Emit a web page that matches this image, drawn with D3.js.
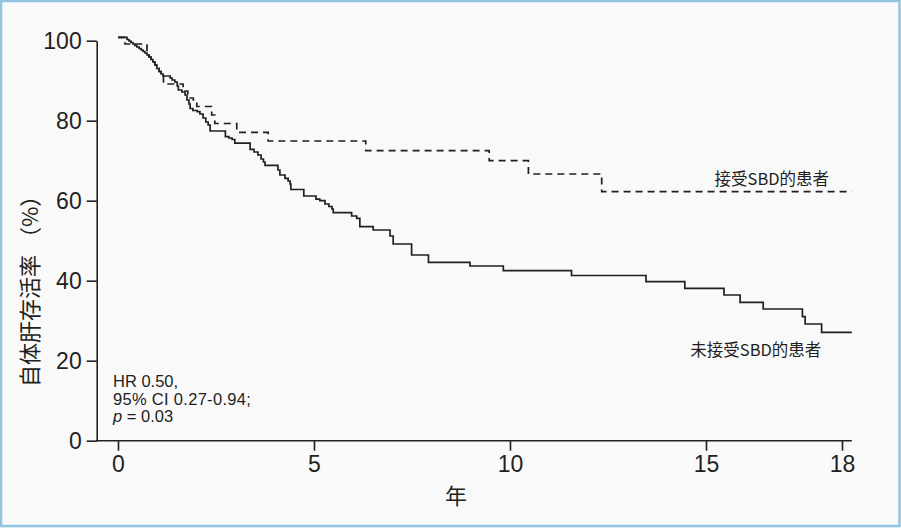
<!DOCTYPE html>
<html><head><meta charset="utf-8">
<script src="https://cdn.jsdelivr.net/npm/d3@7/dist/d3.min.js"></script>
<style>
html,body{margin:0;padding:0;background:#f9f9f9;}
svg{display:block;}
</style></head>
<body>
<svg id="chart" width="901" height="528"></svg>
<script>
// ---- data (years, % survival) ----
const noSBD = [
 [0,100.85],[0.23,100.3],[0.28,99.93],[0.33,99.55],[0.38,99.18],[0.43,98.8],[0.48,98.43],[0.54,98.05],
 [0.59,97.68],[0.64,97.3],[0.69,96.93],[0.74,96.43],[0.79,95.93],[0.84,95.3],[0.89,94.68],[0.94,93.93],
 [0.99,93.05],[1.05,92.3],[1.10,91.68],[1.15,91.18],[1.33,90.68],[1.38,90.18],[1.45,89.68],[1.51,88.68],
 [1.54,87.68],[1.63,87.18],[1.71,86.43],[1.76,85.18],[1.81,84.18],[1.84,83.05],[1.91,82.55],[2.02,82.25],
 [2.09,81.68],[2.17,80.68],[2.24,79.68],[2.30,78.93],[2.35,77.43],[2.74,76.0],[2.83,75.68],[2.91,75.3],
 [2.98,74.4],[3.37,72.85],[3.47,72.18],[3.57,71.43],[3.65,70.43],[3.71,69.68],[3.75,68.85],[4.08,67.68],
 [4.13,66.43],[4.26,65.6],[4.34,64.93],[4.39,64.18],[4.41,62.8],[4.74,61.18],[5.05,60.4],[5.15,60.0],
 [5.28,59.18],[5.38,58.55],[5.46,57.93],[5.49,57.0],[5.96,56.18],[6.09,55.6],[6.17,53.5],[6.51,52.68],
 [6.94,51.18],[7.02,49.18],[7.49,46.43],[7.92,44.6],[8.98,43.68],[9.83,42.5],[11.57,41.3],[13.47,39.75],
 [14.46,38.1],[15.46,36.43],[15.87,34.6],[16.46,32.93],[17.46,31.0],[17.53,29.18],[17.95,27.1],[18.72,27.1]
];
const withSBD = [
 [0,100.85],[0.18,99.18],[0.74,96.93],[0.79,95.93],[0.84,95.3],[0.89,94.68],[0.94,93.93],[0.99,93.05],
 [1.05,92.3],[1.10,91.68],[1.16,89.18],[1.66,87.43],[1.78,85.68],[1.92,85.18],[2.01,83.55],[2.39,81.43],
 [2.47,79.3],[3.03,77.1],[3.83,74.93],[6.32,72.5],[9.47,70.0],[10.47,66.68],[12.34,62.25],[18.72,62.25]
];
const xTickValues = [0, 5, 10, 15, 18.47];
const xTickLabels = ["0", "5", "10", "15", "18"];
const yTickValues = [0, 20, 40, 60, 80, 100];
const seriesLabels = ["接受SBD的患者", "未接受SBD的患者"];
const statLines = ["HR 0.50,", "95% CI 0.27-0.94;", "= 0.03"];
const xTitle = "年";
const yTitleMain = "自体肝存活率";
const yTitleUnit = "（%）";

// ---- drawing ----
const svg = d3.select("#chart");
const ink = "#231f20";
const latin = "'Liberation Sans', Arial, sans-serif";
const cjk = "'Noto Sans CJK SC', 'Noto Sans', sans-serif";

svg.append("rect").attr("x",1).attr("y",1).attr("width",898.5).attr("height",525)
  .attr("fill","#f9f9f9").attr("stroke","#93c5e0").attr("stroke-width",2.5);

const x = d3.scaleLinear().domain([0, 18.72]).range([118, 851.8]);
const y = d3.scaleLinear().domain([0, 100]).range([440.7, 40.7]);
const yAxisX = 96.7;

// y axis
const gy = svg.append("g").attr("transform",`translate(${yAxisX},0)`)
  .call(d3.axisLeft(y).tickValues(yTickValues).tickSize(10).tickPadding(5).tickSizeOuter(0));
gy.select(".domain").attr("stroke",ink).attr("stroke-width",1.6);
gy.selectAll(".tick line").attr("stroke",ink).attr("stroke-width",1.6);
gy.selectAll(".tick text").attr("font-family",latin).attr("font-size",23).attr("fill",ink);

// x axis
const gx = svg.append("g").attr("transform",`translate(0,${y(0)})`)
  .call(d3.axisBottom(x).tickValues(xTickValues).tickFormat((d,i)=>xTickLabels[i])
        .tickSize(10).tickPadding(5).tickSizeOuter(0));
gx.select(".domain").remove();
gx.selectAll(".tick line").attr("stroke",ink).attr("stroke-width",1.6);
gx.selectAll(".tick text").attr("font-family",latin).attr("font-size",23).attr("fill",ink);
svg.append("line").attr("x1",yAxisX-0.8).attr("x2",x.range()[1]).attr("y1",y(0)).attr("y2",y(0))
  .attr("stroke",ink).attr("stroke-width",1.6);

// curves
const line = d3.line().x(d=>x(d[0])).y(d=>y(d[1])).curve(d3.curveStepAfter);
svg.append("path").attr("d",line(noSBD)).attr("fill","none").attr("stroke",ink).attr("stroke-width",1.7);
svg.append("path").attr("d",line(withSBD)).attr("fill","none").attr("stroke",ink).attr("stroke-width",1.7)
  .attr("stroke-dasharray","7,5");

// series labels
svg.append("text").attr("x",x(15.22)).attr("y",y(63.9)).attr("font-family",cjk).attr("font-size",16.5)
  .attr("fill",ink).attr("text-anchor","start").text(seriesLabels[0]);
svg.append("text").attr("x",x(14.6)).attr("y",y(21.3)).attr("font-family",cjk).attr("font-size",16.5)
  .attr("fill",ink).attr("text-anchor","start").text(seriesLabels[1]);

// stats
const st = svg.append("g").attr("font-family",latin).attr("font-size",16.5).attr("fill",ink);
st.append("text").attr("x",113).attr("y",387).text(statLines[0]);
st.append("text").attr("x",113).attr("y",404.5).attr("letter-spacing",0.3).text(statLines[1]);
const t3 = st.append("text").attr("x",113).attr("y",422);
t3.append("tspan").attr("font-style","italic").text("p");
t3.append("tspan").text(" " + statLines[2]);

// titles
svg.append("text").attr("x",456).attr("y",504).attr("text-anchor","middle")
  .attr("font-family",cjk).attr("font-size",22).attr("fill",ink).text(xTitle);
const yt = svg.append("text").attr("transform","translate(38,387) rotate(-90)").attr("text-anchor","start")
  .attr("font-family",cjk).attr("font-size",22).attr("fill",ink);
yt.append("tspan").text(yTitleMain);
yt.append("tspan").attr("dx",6).text(yTitleUnit);
</script>
</body></html>
